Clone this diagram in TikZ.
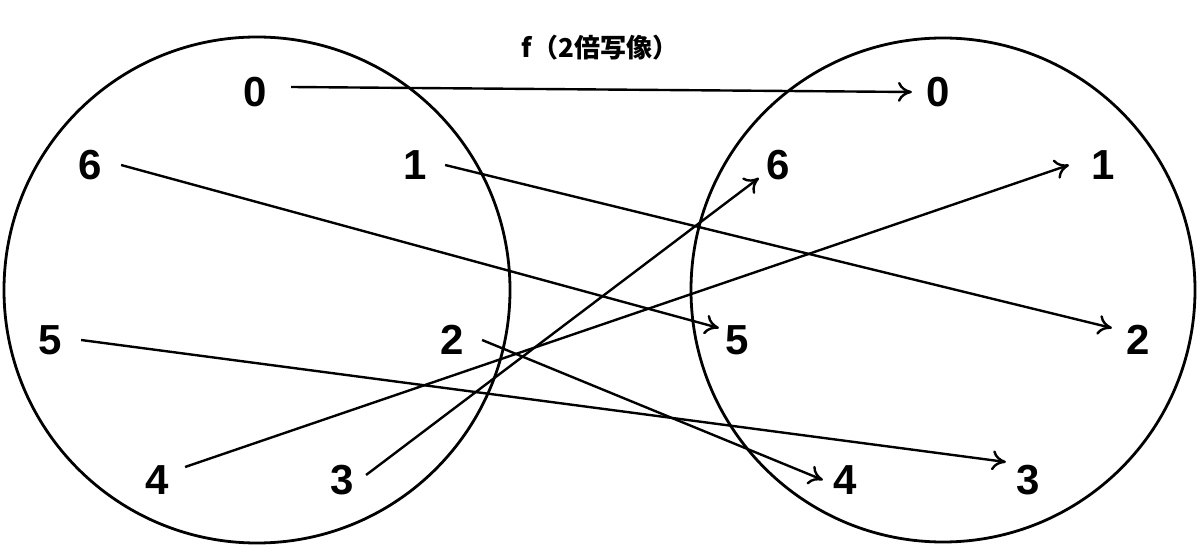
\documentclass[tikz,border=0pt]{standalone}
\usepackage{fontspec}
\setmainfont{Liberation Sans}
\newfontfamily\cjk{Noto Sans CJK JP}
\usetikzlibrary{arrows.meta}
\begin{document}
\begin{tikzpicture}[x=0.5pt,y=-0.5pt,
  num/.style={font=\fontsize{21}{24}\selectfont\bfseries, inner sep=2pt},
  arr/.style={line width=1.2pt,-{To[length=7pt,width=10pt,line width=1.2pt]}}]
\useasboundingbox (0,0) rectangle (1200,555);
\draw[line width=1.4pt] (257,290) circle (253);
\draw[line width=1.4pt] (943,290) circle (252);
\node[font=\cjk\bfseries\fontsize{13}{15}\selectfont] (t) at (600,48) {f（2倍写像）};
\node[num] (l0) at (255,92) {0};
\node[num] (l6) at (90,165) {6};
\node[num] (l1) at (415,165) {1};
\node[num] (l5) at (50,340) {5};
\node[num] (l2) at (452,340) {2};
\node[num] (l4) at (157,480) {4};
\node[num] (l3) at (342,480) {3};
\node[num] (r0) at (938,92) {0};
\node[num] (r6) at (778,165) {6};
\node[num] (r1) at (1103,165) {1};
\node[num] (r5) at (737,340) {5};
\node[num] (r2) at (1138,340) {2};
\node[num] (r4) at (845,480) {4};
\node[num] (r3) at (1028,480) {3};
\draw[arr] ([shift={(20,-5)}]l0.east) -- ([shift={(-10,0)}]r0.west);
\draw[arr] ([shift={(15,0)}]l6.east) -- ([shift={(-2,-12)}]r5.west);
\draw[arr] ([shift={(14,0)}]l1.east) -- ([shift={(-10,-12)}]r2.west);
\draw[arr] ([shift={(15,0)}]l5.east) -- ([shift={(-6,-18)}]r3.west);
\draw[arr] ([shift={(14,0)}]l2.east) -- ([shift={(-6,0)}]r4.west);
\draw[arr] ([shift={(12,-13)}]l4.east) -- ([shift={(-18,0)}]r1.west);
\draw[arr] ([shift={(8,-5)}]l3.east) -- ([shift={(-3,13)}]r6.west);
\end{tikzpicture}
\end{document}
